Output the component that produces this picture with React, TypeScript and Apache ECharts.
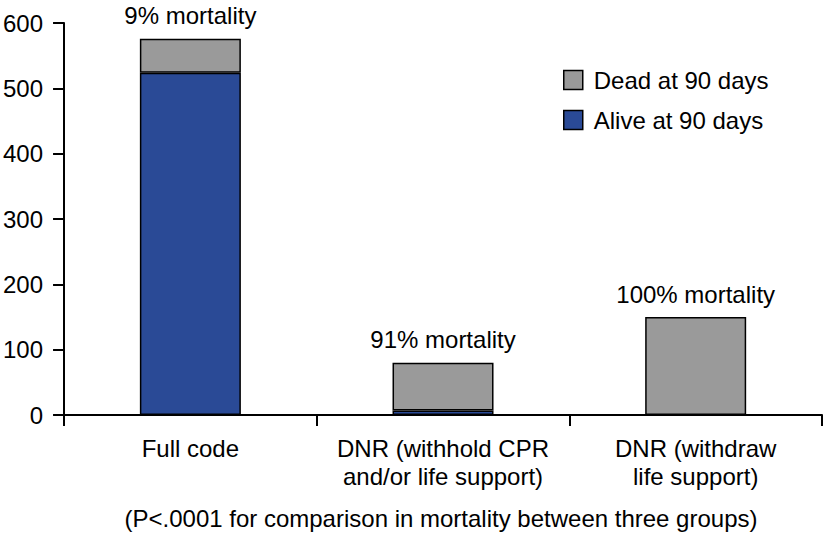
import React, { useEffect, useRef } from "react";
import * as echarts from "echarts";

const categories = ["Full code", "DNR (withhold CPR\nand/or life support)", "DNR (withdraw\nlife support)"];
const aliveValues = [524, 7, 0];
const deadValues = [52, 73, 150];
const mortalityLabels = ["9% mortality", "91% mortality", "100% mortality"];
const yTicks = { min: 0, max: 600, interval: 100 };
const footnote = "(P<.0001 for comparison in mortality between three groups)";

const FONT = "'Liberation Sans', Arial, Helvetica, sans-serif";
const FS = 24;

export default function App() {
  const ref = useRef<HTMLDivElement>(null);
  useEffect(() => {
    document.body.style.margin = "0";
    const chart = echarts.init(ref.current!, null, { renderer: "svg" });
    chart.setOption({
      animation: false,
      textStyle: { fontFamily: FONT },
      grid: { left: 60, right: 4, top: 23, bottom: 120 },
      legend: {
        orient: "vertical",
        left: 563,
        top: 68,
        padding: 0,
        itemWidth: 19,
        itemHeight: 19,
        itemGap: 16,
        icon: "rect",
        data: ["Dead at 90 days", "Alive at 90 days"],
        textStyle: { fontSize: FS, lineHeight: 19, color: "#000", fontFamily: FONT, padding: [0, 0, 0, 6] },
        itemStyle: { borderColor: "#000", borderWidth: 1.5 },
      },
      xAxis: {
        type: "category",
        data: categories,
        axisLine: { lineStyle: { color: "#000", width: 2 } },
        axisTick: { show: true, length: 11, lineStyle: { color: "#000", width: 2 } },
        axisLabel: {
          interval: 0,
          hideOverlap: false,
          color: "#000",
          fontSize: FS,
          lineHeight: 28,
          margin: 19,
          fontFamily: FONT,
        },
      },
      yAxis: {
        type: "value",
        min: yTicks.min,
        max: yTicks.max,
        interval: yTicks.interval,
        splitLine: { show: false },
        axisLine: { show: true, lineStyle: { color: "#000", width: 2 } },
        axisTick: { show: true, length: 11, lineStyle: { color: "#000", width: 2 } },
        axisLabel: { color: "#000", fontSize: FS, margin: 21, fontFamily: FONT },
      },
      series: [
        {
          name: "Alive at 90 days",
          type: "bar",
          stack: "total",
          barWidth: 101,
          data: aliveValues,
          itemStyle: { color: "#2a4a96", borderColor: "#000", borderWidth: 1.5 },
        },
        {
          name: "Dead at 90 days",
          type: "bar",
          stack: "total",
          barWidth: 101,
          data: deadValues,
          itemStyle: { color: "#9a9a9a", borderColor: "#000", borderWidth: 1.5 },
          label: {
            show: true,
            position: "top",
            distance: 11,
            color: "#000",
            fontSize: FS,
            fontFamily: FONT,
            formatter: (p: any) => mortalityLabels[p.dataIndex],
          },
        },
      ],
      graphic: [
        {
          type: "text",
          x: 441,
          y: 506,
          style: { text: footnote, fontSize: FS, fill: "#000", fontFamily: FONT, textAlign: "center" },
        },
      ],
    });
    return () => chart.dispose();
  }, []);
  return <div ref={ref} style={{ width: 826, height: 535 }} />;
}
